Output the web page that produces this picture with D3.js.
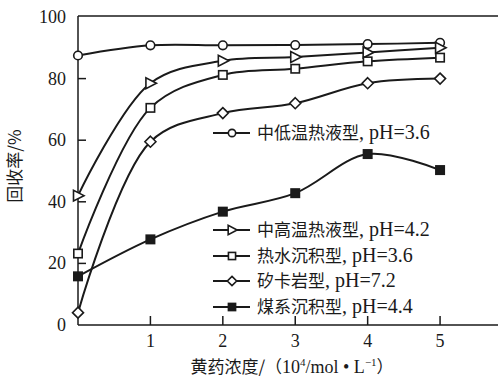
<!DOCTYPE html>
<html>
<head>
<meta charset="utf-8">
<script src="https://cdn.jsdelivr.net/npm/d3@7"></script>
<style>
  body { margin: 0; background: #fff; }
  svg { display: block; }
  text { font-family: "Liberation Serif", "Noto Sans CJK SC", serif; fill: #1a1a1a; }
  .cjk { font-family: "Noto Sans CJK SC", sans-serif; }
</style>
</head>
<body>
<svg id="chart"></svg>
<script>
// xanthate concentration
let dose = [0, 1, 2, 3, 4, 5]
let xTicks = [1, 2, 3, 4, 5]
let yTicks = [0, 20, 40, 60, 80, 100]

let lowTemp = [87.5, 90.8, 90.8, 90.9, 91.2, 91.6]
let highTemp = [42, 78.5, 85.8, 87.0, 88.5, 90.0]
let hotWater = [23.2, 70.5, 81.2, 83.2, 85.6, 86.8]
let skarn = [4, 59.5, 68.8, 72, 78.5, 80]
let coal = [15.8, 27.8, 36.8, 42.8, 55.5, 50.3]

let typeNames = ["中低温热液型", "中高温热液型", "热水沉积型", "矽卡岩型", "煤系沉积型"]
let phLabels = [", pH=3.6", ", pH=4.2", ", pH=3.6", ", pH=7.2", ", pH=4.4"]

let series = [
  { name: typeNames[0], ph: phLabels[0], values: lowTemp, mark: "circle" },
  { name: typeNames[1], ph: phLabels[1], values: highTemp, mark: "triangle" },
  { name: typeNames[2], ph: phLabels[2], values: hotWater, mark: "square" },
  { name: typeNames[3], ph: phLabels[3], values: skarn, mark: "diamond" },
  { name: typeNames[4], ph: phLabels[4], values: coal, mark: "filled" }
]

let width = 498, height = 381
let svg = d3.select("#chart").attr("width", width).attr("height", height)

let x = d3.scaleLinear().domain([0, 5.8]).range([78, 498])
let y = d3.scaleLinear().domain([0, 100]).range([325, 17])

let ink = "#1a1a1a"

// frame: top line, left axis, bottom axis
svg.append("line").attr("x1", x(0)).attr("x2", x(5.8)).attr("y1", 16).attr("y2", 16)
  .attr("stroke", ink).attr("stroke-width", 1.5)
svg.append("line").attr("x1", x(0)).attr("x2", x(0)).attr("y1", 16).attr("y2", y(0))
  .attr("stroke", ink).attr("stroke-width", 1.5)
svg.append("line").attr("x1", x(0)).attr("x2", x(5.8)).attr("y1", y(0)).attr("y2", y(0))
  .attr("stroke", ink).attr("stroke-width", 1.5)

// y ticks
svg.selectAll(".ytick").data(yTicks.filter(d => d > 0 && d < 100)).enter().append("line")
  .attr("x1", x(0)).attr("x2", x(0) + 8)
  .attr("y1", d => y(d)).attr("y2", d => y(d))
  .attr("stroke", ink).attr("stroke-width", 1.5)
svg.selectAll(".ylab").data(yTicks).enter().append("text")
  .attr("x", 66).attr("y", d => y(d) + 6)
  .attr("text-anchor", "end").style("font-size", "18px")
  .text(d => d)

// x ticks
svg.selectAll(".xtick").data(xTicks).enter().append("line")
  .attr("x1", d => x(d)).attr("x2", d => x(d))
  .attr("y1", y(0)).attr("y2", y(0) - 9)
  .attr("stroke", ink).attr("stroke-width", 1.5)
svg.selectAll(".xlab").data(xTicks).enter().append("text")
  .attr("x", d => x(d)).attr("y", 347)
  .attr("text-anchor", "middle").style("font-size", "18px")
  .text(d => d)

// axis titles
svg.append("text")
  .attr("transform", "translate(21,166) rotate(-90)")
  .attr("text-anchor", "middle").style("font-size", "17px")
  .attr("class", "cjk")
  .text("回收率/%")

let xt = svg.append("text").attr("x", 292).attr("y", 373)
  .attr("text-anchor", "middle").style("font-size", "18px")
xt.append("tspan").attr("class", "cjk").style("font-size", "17px").text("黄药浓度/（")
xt.append("tspan").text("10")
xt.append("tspan").attr("dy", -7).style("font-size", "11px").text("4")
xt.append("tspan").attr("dy", 7).text("/mol  •  L")
xt.append("tspan").attr("dy", -7).style("font-size", "11px").text("−1")
xt.append("tspan").attr("dy", 7).attr("class", "cjk").style("font-size", "17px").text("）")

// curves
let line = d3.line()
  .x((d, i) => x(dose[i]))
  .y(d => y(d))
  .curve(d3.curveCatmullRom.alpha(0.5))

svg.selectAll(".curve").data(series).enter().append("path")
  .attr("d", d => line(d.values))
  .attr("fill", "none").attr("stroke", ink).attr("stroke-width", 2)

function drawMark(g, type, cx, cy, s) {
  if (type == "circle") {
    g.append("circle").attr("cx", cx).attr("cy", cy).attr("r", 4.3 * s)
      .attr("fill", "#fff").attr("stroke", ink).attr("stroke-width", 1.6)
  } else if (type == "triangle") {
    let r = 6 * s
    g.append("path")
      .attr("d", `M${cx + r},${cy} L${cx - r * 0.75},${cy - r * 0.9} L${cx - r * 0.75},${cy + r * 0.9} Z`)
      .attr("fill", "#fff").attr("stroke", ink).attr("stroke-width", 1.6)
  } else if (type == "square" || type == "filled") {
    let h = 4.2 * s
    g.append("rect").attr("x", cx - h).attr("y", cy - h).attr("width", 2 * h).attr("height", 2 * h)
      .attr("fill", type == "filled" ? ink : "#fff").attr("stroke", ink).attr("stroke-width", 1.6)
  } else if (type == "diamond") {
    let r = 5.5 * s
    g.append("path")
      .attr("d", `M${cx},${cy - r} L${cx + r},${cy} L${cx},${cy + r} L${cx - r},${cy} Z`)
      .attr("fill", "#fff").attr("stroke", ink).attr("stroke-width", 1.6)
  }
}

let marks = svg.append("g")
series.forEach(sr => {
  sr.values.forEach((v, i) => drawMark(marks, sr.mark, x(dose[i]), y(v), 1))
})

// legend
let legendY = [133, 230, 256, 281, 307]
let legend = svg.append("g")
series.forEach((sr, i) => {
  let ly = legendY[i]
  legend.append("line").attr("x1", 213).attr("x2", 250).attr("y1", ly).attr("y2", ly)
    .attr("stroke", ink).attr("stroke-width", 2)
  drawMark(legend, sr.mark, 232, ly, 0.85)
  let t = legend.append("text").attr("x", 257).attr("y", ly + 6)
  t.append("tspan").attr("class", "cjk").style("font-size", "17px").text(sr.name)
  t.append("tspan").style("font-size", "20px").text(sr.ph)
})
</script>
</body>
</html>
